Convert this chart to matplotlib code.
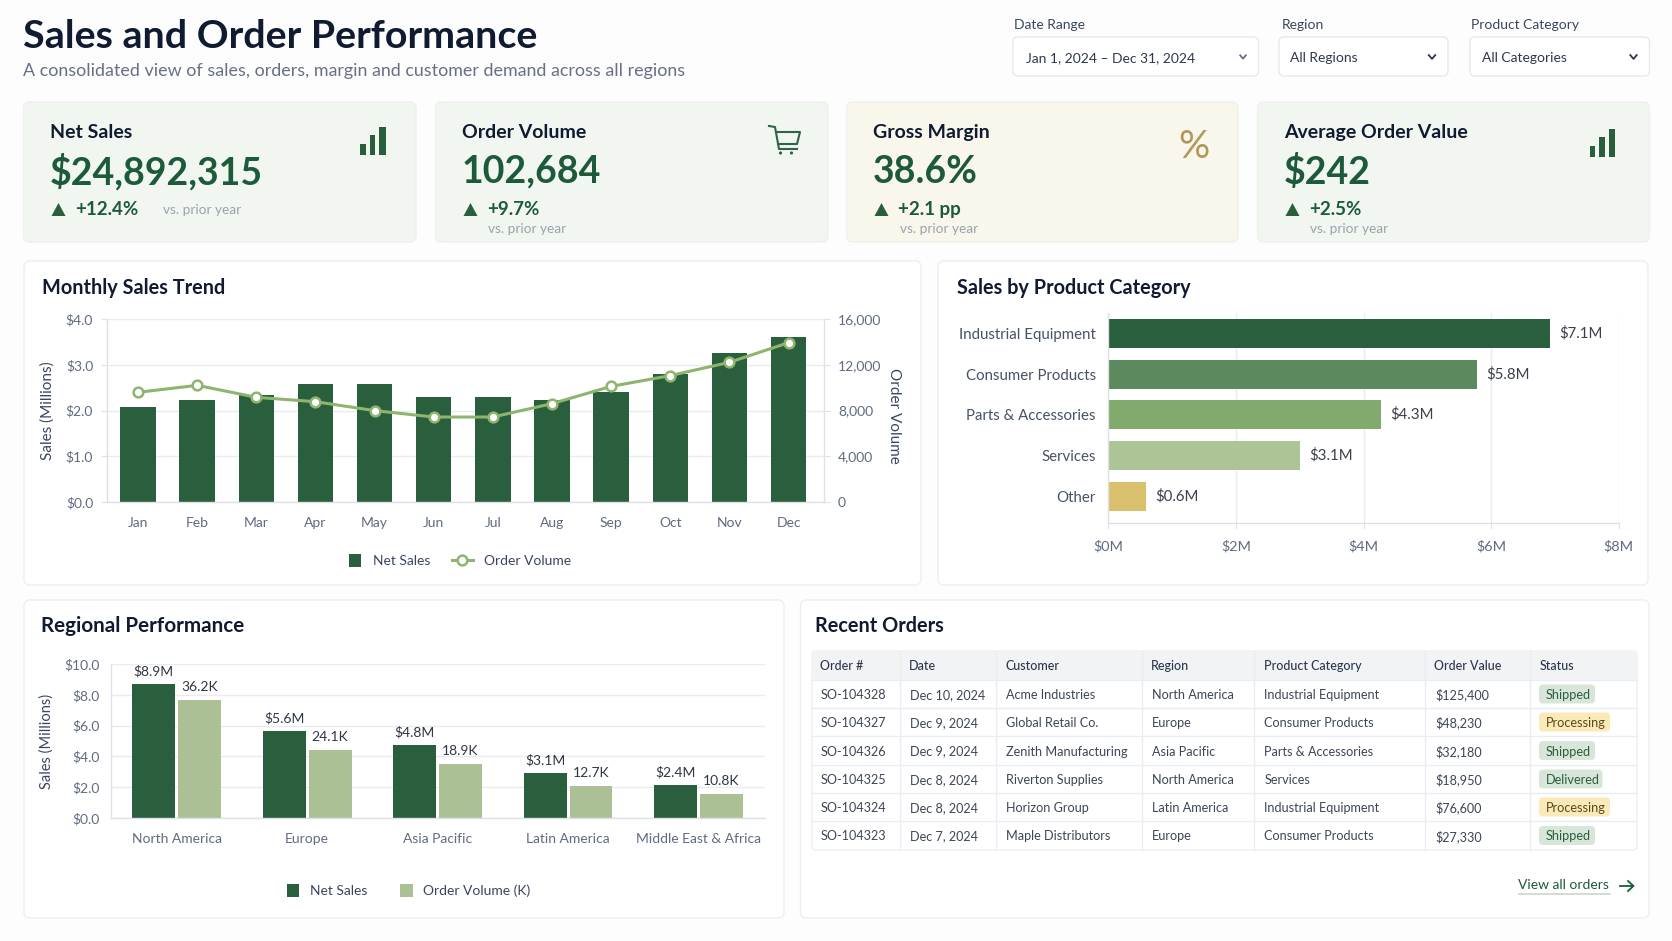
import matplotlib
matplotlib.use("Agg")
import matplotlib.pyplot as plt
from matplotlib.legend_handler import HandlerPatch
from matplotlib.patches import FancyBboxPatch, Rectangle, Polygon, Circle, Patch

plt.rcParams["font.family"] = ["Lato", "DejaVu Sans"]

W, H = 1672, 941

GREEN = "#2a5f3e"
LIGHT = "#abc195"
LINE = "#8db56f"
GRID = "#e9ecef"
AXIS = "#dde1e6"
TICK = "#5f6b80"
DARK = "#101a30"

months = ["Jan", "Feb", "Mar", "Apr", "May", "Jun", "Jul", "Aug", "Sep", "Oct", "Nov", "Dec"]
monthly_sales = [2.07, 2.24, 2.34, 2.58, 2.58, 2.30, 2.30, 2.24, 2.40, 2.80, 3.26, 3.60]
monthly_orders = [9590, 10200, 9150, 8770, 7990, 7430, 7430, 8600, 10110, 11050, 12210, 13930]

categories = ["Industrial Equipment", "Consumer Products", "Parts & Accessories", "Services", "Other"]
category_sales = [6.93, 5.78, 4.27, 3.0, 0.59]
category_labels = ["$7.1M", "$5.8M", "$4.3M", "$3.1M", "$0.6M"]
category_colors = ["#2a5f3e", "#5c8a5e", "#82aa6c", "#adc496", "#d9c06c"]

regions = ["North America", "Europe", "Asia Pacific", "Latin America", "Middle East & Africa"]
region_sales = [8.7, 5.63, 4.72, 2.92, 2.14]
region_orders = [7.66, 4.39, 3.51, 2.06, 1.56]
region_sales_labels = ["$8.9M", "$5.6M", "$4.8M", "$3.1M", "$2.4M"]
region_orders_labels = ["36.2K", "24.1K", "18.9K", "12.7K", "10.8K"]

kpi_names = ["Net Sales", "Order Volume", "Gross Margin", "Average Order Value"]
kpi_values = ["$24,892,315", "102,684", "38.6%", "$242"]
kpi_deltas = ["+12.4%", "+9.7%", "+2.1 pp", "+2.5%"]

table_header = ["Order #", "Date", "Customer", "Region", "Product Category", "Order Value", "Status"]
order_ids = ["SO-104328", "SO-104327", "SO-104326", "SO-104325", "SO-104324", "SO-104323"]
order_dates = ["Dec 10, 2024", "Dec 9, 2024", "Dec 9, 2024", "Dec 8, 2024", "Dec 8, 2024", "Dec 7, 2024"]
order_customers = ["Acme Industries", "Global Retail Co.", "Zenith Manufacturing", "Riverton Supplies",
                   "Horizon Group", "Maple Distributors"]
order_regions = ["North America", "Europe", "Asia Pacific", "North America", "Latin America", "Europe"]
order_categories = ["Industrial Equipment", "Consumer Products", "Parts & Accessories", "Services",
                    "Industrial Equipment", "Consumer Products"]
order_values = ["$125,400", "$48,230", "$32,180", "$18,950", "$76,600", "$27,330"]
order_status = ["Shipped", "Processing", "Shipped", "Delivered", "Processing", "Shipped"]


def px_axes(left, top, right, bottom):
    return fig.add_axes([left / W, 1 - bottom / H, (right - left) / W, (bottom - top) / H])


def box(x0, y0, x1, y1, face, edge="none", r=6, lw=1.0, z=1):
    bg.add_patch(FancyBboxPatch((x0, y0), x1 - x0, y1 - y0, boxstyle=f"round,pad=0,rounding_size={r}",
                                fc=face, ec=edge, lw=lw, zorder=z))


def label(x, y, s, size, color=DARK, weight="normal", ha="left", **kw):
    bg.text(x, y, s, fontsize=size, color=color, fontweight=weight, ha=ha, va="center_baseline", zorder=5, **kw)


def chevron(x, y, color, s=3.5):
    bg.plot([x - s, x, x + s], [y - s * 0.6, y + s * 0.6, y - s * 0.6], color=color, lw=1.3, zorder=5)


def square_handle(legend, orig_handle, xdescent, ydescent, width, height, fontsize):
    return Rectangle((width - 9 - xdescent, -ydescent), 9, height)


def style_axes(ax):
    ax.set_facecolor("none")
    for s in ax.spines.values():
        s.set_color(AXIS)
        s.set_linewidth(1)
    ax.set_axisbelow(True)


fig = plt.figure(figsize=(W / 100, H / 100), dpi=100, facecolor="#fdfdfe")
bg = fig.add_axes([0, 0, 1, 1])
bg.set_xlim(0, W)
bg.set_ylim(H, 0)
bg.axis("off")

# header
label(23, 33, "Sales and Order Performance", 28.4, weight="bold")
label(23, 69, "A consolidated view of sales, orders, margin and customer demand across all regions", 12.9, color="#667085")

filter_names = ["Date Range", "Region", "Product Category"]
filter_values = ["Jan 1, 2024 – Dec 31, 2024", "All Regions", "All Categories"]
filter_boxes = [(1013, 1258.5), (1279, 1448), (1470, 1649.5)]
name_x = [1013.5, 1282, 1471]
value_x = [1025.5, 1290.5, 1482.5]
chevron_x = [1243, 1432, 1633.5]
for i, (name, value) in enumerate(zip(filter_names, filter_values)):
    x0, x1 = filter_boxes[i]
    label(name_x[i], 23.5, name, 10, color="#3a4660")
    box(x0, 37, x1, 76, "white", "#e6e9ee", r=5)
    label(value_x[i], 57, value, 10, color="#2c3850")
    if i == 0:
        chevron(chevron_x[i], 57, "#667085", 2.8)
    else:
        chevron(chevron_x[i], 57, "#2c3850", 3.2)

# kpi cards
card_x = [(23.5, 416), (435.5, 828), (846.5, 1238), (1257.5, 1649.5)]
card_faces = ["#f1f6f0", "#f1f6f0", "#f9f6ec", "#f1f6f0"]
for i, (x0, x1) in enumerate(card_x):
    box(x0, 102, x1, 242, card_faces[i], "#eef1ec", r=6)
    tx = x0 + 27
    label(tx - 0.5, 130.5, kpi_names[i], 14, weight="bold")
    label(tx - 1, 168.5, kpi_values[i], 27, color="#1d5a3a", weight="bold")
    bg.add_patch(Polygon([(tx + 1, 216), (tx + 15, 216), (tx + 8, 203)], fc=GREEN, ec="none", zorder=5))
    label(tx + 25, 207.5, kpi_deltas[i], 13.5, color="#1d5a3a", weight="bold")
    if i == 0:
        label(163, 209, "vs. prior year", 9.8, color="#9aa3ad")
    else:
        label(tx + 26, 228, "vs. prior year", 9.8, color="#9aa3ad")

# kpi icons
for x0, y0 in [(360, 0), (1589.5, 2)]:
    for j, top in enumerate([144, 135, 127]):
        bg.add_patch(Rectangle((x0 + j * 9.5, top + y0), 5.5 + (j == 2), 155 - top, fc=GREEN, ec="none", zorder=5))
cart = "#2f6446"
bg.plot([769, 775, 779, 797], [126, 127, 149, 149], color=cart, lw=1.5, zorder=5)
bg.plot([776, 800, 797, 778], [132, 132, 144, 144], color=cart, lw=1.5, zorder=5)
for cx in [780.5, 791.5]:
    bg.add_patch(Circle((cx, 153), 1.6, fc=cart, ec="none", zorder=5))
label(1194, 143, "%", 28, color="#b0985a", ha="center")

# panels
panels = [(24, 261, 921, 585, "Monthly Sales Trend"), (938, 261, 1648, 585, "Sales by Product Category"),
          (24, 600, 784, 918, "Regional Performance"), (800.5, 600, 1649, 918, "Recent Orders")]
for x0, y0, x1, y1, title in panels:
    box(x0, y0, x1, y1, "white", "#eceef1", r=6)
for x, y, title, size in [(42, 285.5, panels[0][4], 14.3), (957, 285.5, panels[1][4], 14.3),
                          (41, 624.5, panels[2][4], 14.9), (815, 624.5, panels[3][4], 14.3)]:
    label(x, y, title, size, weight="bold")

# monthly sales trend
ax = px_axes(107, 319, 824, 502)
style_axes(ax)
xs = list(range(len(months)))
bars = ax.bar(xs, monthly_sales, width=0.6, color=GREEN, zorder=2, label="Net Sales")
ax.set_xlim(-0.525, 11.6)
ax.set_ylim(0, 4)
ax.set_yticks([0, 1, 2, 3, 4], ["$0.0", "$1.0", "$2.0", "$3.0", "$4.0"])
ax.set_xticks(xs, months)
ax.grid(axis="y", color=GRID, lw=1)
ax.spines["top"].set_visible(False)
ax.spines["right"].set_visible(False)
ax.tick_params(axis="y", length=4, color=AXIS, labelcolor=TICK, labelsize=10, pad=6)
ax.tick_params(axis="x", length=0, labelcolor=TICK, labelsize=10, pad=11)
ax.set_ylabel("Sales (Millions)", fontsize=11, color="#3a4660", labelpad=8)

ax2 = ax.twinx()
style_axes(ax2)
line, = ax2.plot(xs, monthly_orders, color=LINE, lw=2.2, marker="o", ms=7, mfc="white", mec=LINE, mew=1.8,
                 zorder=4, label="Order Volume")
ax2.set_ylim(0, 16000)
ax2.set_yticks([0, 4000, 8000, 12000, 16000], ["0", "4,000", "8,000", "12,000", "16,000"])
ax2.spines["top"].set_visible(False)
ax2.spines["left"].set_visible(False)
ax2.spines["bottom"].set_visible(False)
ax2.tick_params(axis="y", length=4, color=AXIS, labelcolor=TICK, labelsize=10, pad=6)
ax2.set_ylabel("Order Volume", fontsize=11, color="#3a4660", rotation=270, labelpad=9)
ax2.yaxis.set_label_coords(1.107, 0.47)
leg = ax2.legend(handles=[Patch(fc=GREEN, label="Net Sales"), line], loc="center", bbox_to_anchor=(0.487, -0.32),
                 ncol=2, frameon=False, fontsize=10, labelcolor="#3a4660", handlelength=1.45, handleheight=1.1,
                 columnspacing=1.6, handletextpad=0.85,
                 handler_map={Patch: HandlerPatch(patch_func=square_handle)})

# sales by product category
ax = px_axes(1108.4, 313, 1618.6, 523)
style_axes(ax)
ys = list(range(len(categories)))
cat_bars = ax.barh(ys, category_sales, height=0.713, color=category_colors, zorder=2)
ax.set_xlim(0, 8)
ax.set_ylim(4.66, -0.5)
ax.set_yticks(ys, categories)
ax.set_xticks([0, 2, 4, 6, 8], ["$0M", "$2M", "$4M", "$6M", "$8M"])
ax.grid(axis="x", color=GRID, lw=1)
ax.spines["top"].set_visible(False)
ax.spines["right"].set_visible(False)
ax.tick_params(axis="y", length=0, labelcolor="#465268", labelsize=10.8, pad=9)
ax.tick_params(axis="x", length=4, color=AXIS, labelcolor=TICK, labelsize=10.4, pad=8)
ax.bar_label(cat_bars, category_labels, padding=6.5, fontsize=10.8, color="#3a3f4a")

# regional performance
ax = px_axes(111, 664, 765, 818)
style_axes(ax)
ticks_r = list(range(len(regions)))
bar_w = 43 / 130.5
off = 23 / 130.5
b1 = ax.bar([i - off for i in ticks_r], region_sales, width=bar_w, color=GREEN, zorder=2, label="Net Sales")
b2 = ax.bar([i + off for i in ticks_r], region_orders, width=bar_w, color=LIGHT, zorder=2, label="Order Volume (K)")
ax.set_xlim(-0.503, 4.51)
ax.set_ylim(0, 10)
ax.set_xticks(ticks_r, regions)
ax.set_yticks([0, 2, 4, 6, 8, 10], ["$0.0", "$2.0", "$4.0", "$6.0", "$8.0", "$10.0"])
ax.grid(axis="y", color=GRID, lw=1)
ax.spines["top"].set_visible(False)
ax.spines["right"].set_visible(False)
ax.tick_params(axis="y", length=0, labelcolor=TICK, labelsize=10, pad=8)
ax.tick_params(axis="x", length=0, labelcolor=TICK, labelsize=10, pad=11)
ax.set_ylabel("Sales (Millions)", fontsize=10.5, color="#3a4660", labelpad=8)
ax.bar_label(b1, region_sales_labels, padding=5, fontsize=10, color="#2f3644")
ax.bar_label(b2, region_orders_labels, padding=5, fontsize=10, color="#2f3644")
ax.legend(loc="center", bbox_to_anchor=(0.455, -0.47), ncol=2, frameon=False, fontsize=10, labelcolor="#3a4660",
          handlelength=0.9, handleheight=1.1, columnspacing=2.4, handletextpad=0.75)

# recent orders table
col_text = [820.5, 909, 1005, 1151, 1264, 1434.5, 1540]
col_lines = [900, 996, 1141.5, 1254, 1424.5, 1529.5]
row_lines = [680, 708, 736, 765, 793, 821, 850]
row_cols = [order_ids, order_dates, order_customers, order_regions, order_categories, order_values]
box(812, 651, 1637, 850, "white", "#eceef1", r=4, z=2)
box(812, 651, 1637, 680, "#f2f3f5", "none", r=4, z=2)
for y in row_lines[:-1]:
    bg.plot([812, 1637], [y, y], color="#e9ecf0", lw=1, zorder=3)
for x in col_lines:
    bg.plot([x, x], [651, 850], color="#e9ecf0", lw=1, zorder=3)
for x, s in zip(col_text, table_header):
    label(x, 665.5, s, 9, color="#2c3850", weight="medium")
pill_styles = {"Shipped": ("#d8e6d9", "#2a5f3e", 56), "Delivered": ("#d8e6d9", "#2a5f3e", 63.5),
               "Processing": ("#fbe9b8", "#5a4a1c", 71)}
for r in range(len(order_ids)):
    yc = (row_lines[r] + row_lines[r + 1]) / 2
    for c, col in enumerate(row_cols):
        label(col_text[c] + (0.5 if c else 0), yc, col[r], 9.1, color="#3c4656")
    face, color, width = pill_styles[order_status[r]]
    box(1539, yc - 9.5, 1539 + width, yc + 9.5, face, "none", r=4, z=4)
    label(1546, yc, order_status[r], 9.2, color=color)

label(1518.5, 884, "View all orders", 10, color="#1d5a3a")
bg.plot([1518.5, 1610], [894, 894], color="#c9d8cc", lw=1.2, zorder=5)
bg.plot([1620, 1633], [886, 886], color="#1d5a3a", lw=1.3, zorder=5)
bg.plot([1628, 1633.5, 1628], [881, 886, 891], color="#1d5a3a", lw=1.3, zorder=5)

fig.savefig("out.png", dpi=100, facecolor=fig.get_facecolor())
